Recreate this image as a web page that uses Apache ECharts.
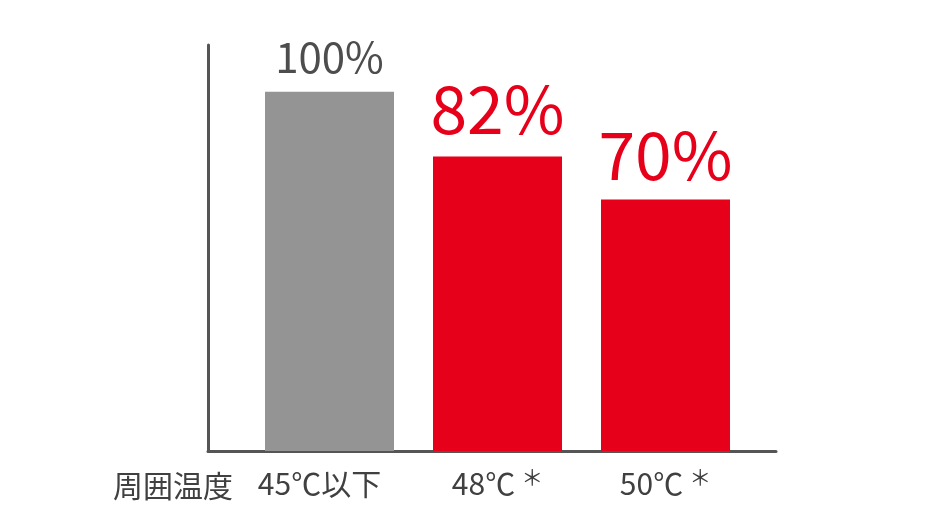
<!DOCTYPE html>
<html>
<head>
<meta charset="utf-8">
<script src="https://cdn.jsdelivr.net/npm/echarts@6/dist/echarts.min.js"></script>
<style>html,body{margin:0;padding:0;background:#fff}#c{width:938px;height:521px}</style>
</head>
<body>
<div id="c"></div>
<script>
const categories = ['45℃以下', '48℃＊', '50℃＊'];
const values = [100, 82, 70];
const labels = ['100%', '82%', '70%'];
const axisTitle = '周囲温度';

const FONT = '"Noto Sans CJK JP", "Noto Sans", sans-serif';
const chart = echarts.init(document.getElementById('c'));
const barColors = ['#939493', '#e60019', '#e60019'];
const labelStyles = [
  { fontSize: 42, color: '#4d4d4d', distance: 14 },
  { fontSize: 66, color: '#e60019', distance: 14 },
  { fontSize: 66, color: '#e60019', distance: 12 }
];

function catLabel(v) {
  if (v.endsWith('＊')) return '{n|' + v.slice(0, -1) + '}{s|＊}';
  return '{n|' + v + '}';
}

chart.setOption({
  animation: false,
  title: {
    text: axisTitle, left: 108, top: 466,
    textStyle: { fontFamily: FONT, fontSize: 30, fontWeight: 'normal', color: '#404040' }
  },
  grid: [
    { left: 208, right: 162, top: 45, bottom: 70 },
    { left: 245.5, width: 504, top: 45, bottom: 70 }
  ],
  xAxis: [
    { gridIndex: 0, type: 'category', data: categories,
      axisLine: { lineStyle: { color: '#555', width: 3 } },
      axisTick: { show: false }, axisLabel: { show: false }, splitLine: { show: false } },
    { gridIndex: 1, type: 'category',
      data: categories.map((c, i) => i === 0 ? { value: c, textStyle: { padding: [0, 20, 0, 0] } } : c),
      axisLine: { show: false }, axisTick: { show: false },
      axisLabel: {
        margin: 15, formatter: catLabel,
        rich: {
          n: { fontFamily: FONT, fontSize: 30, color: '#404040', lineHeight: 36 },
          s: { fontFamily: FONT, fontSize: 22, color: '#404040', lineHeight: 36, verticalAlign: 'top', padding: [0, 0, 6, 6] }
        }
      } }
  ],
  yAxis: [
    { gridIndex: 0, type: 'value', min: 0, max: 113,
      axisLine: { show: true, lineStyle: { color: '#555', width: 3 } },
      axisTick: { show: false }, axisLabel: { show: false }, splitLine: { show: false } },
    { gridIndex: 1, type: 'value', min: 0, max: 113, show: false, splitLine: { show: false } }
  ],
  series: [{
    type: 'bar', xAxisIndex: 1, yAxisIndex: 1, barWidth: 129,
    data: values.map((v, i) => ({
      value: v,
      itemStyle: { color: barColors[i] },
      label: {
        show: true, position: 'top', formatter: labels[i],
        fontFamily: FONT, fontSize: labelStyles[i].fontSize,
        color: labelStyles[i].color, distance: labelStyles[i].distance
      }
    }))
  }]
});
</script>
</body>
</html>
